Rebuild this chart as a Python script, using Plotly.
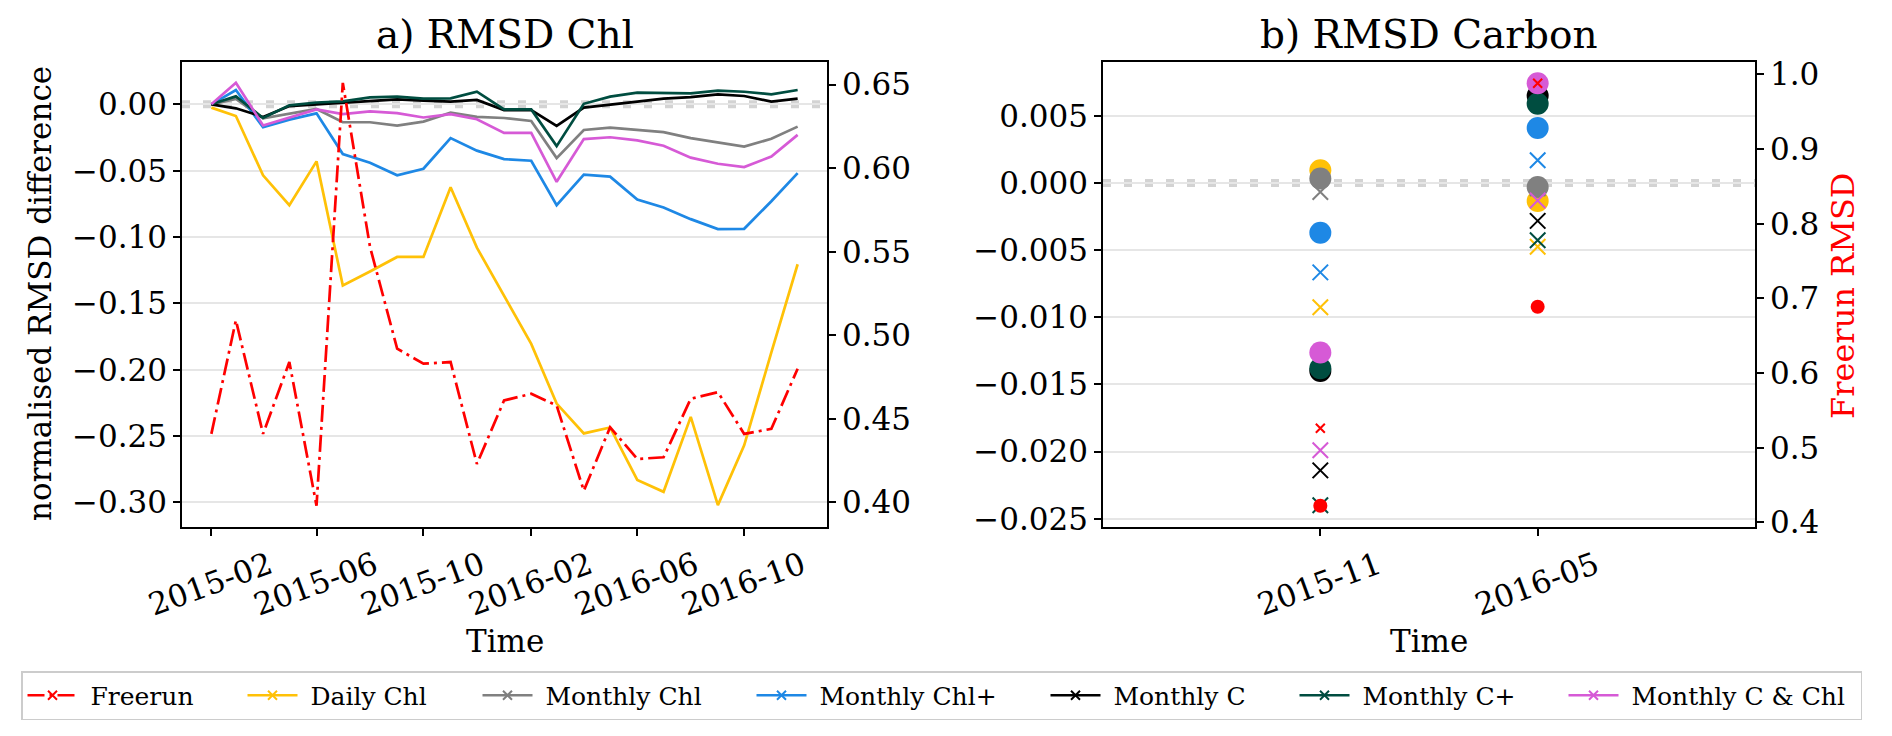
import plotly.graph_objects as go

# ---------------- data ----------------
months = ["2015-02-01", "2015-03-01", "2015-04-01", "2015-05-01", "2015-06-01", "2015-07-01",
          "2015-08-01", "2015-09-01", "2015-10-01", "2015-11-01", "2015-12-01", "2016-01-01",
          "2016-02-01", "2016-03-01", "2016-04-01", "2016-05-01", "2016-06-01", "2016-07-01",
          "2016-08-01", "2016-09-01", "2016-10-01", "2016-11-01", "2016-12-01"]

freerun_chl = [0.441, 0.509, 0.441, 0.484, 0.398, 0.651, 0.553, 0.492, 0.483, 0.484, 0.423, 0.461,
               0.465, 0.458, 0.407, 0.445, 0.426, 0.427, 0.462, 0.466, 0.441, 0.444, 0.480]
daily_chl = [-0.0025, -0.0088, -0.0535, -0.076, -0.043, -0.1365, -0.126, -0.115, -0.115, -0.0625,
             -0.108, -0.144, -0.1805, -0.2255, -0.248, -0.2435, -0.283, -0.292, -0.2355, -0.302,
             -0.257, -0.187, -0.1205]
monthly_chl = [0.0, 0.004, -0.0105, -0.0073, -0.0035, -0.0135, -0.0135, -0.016, -0.013, -0.0063,
               -0.0095, -0.0103, -0.0125, -0.0405, -0.0193, -0.0175, -0.0195, -0.021, -0.0255,
               -0.0288, -0.0318, -0.026, -0.0168]
monthly_chl_plus = [0.0, 0.0108, -0.0173, -0.0115, -0.0068, -0.0375, -0.044, -0.0535, -0.0485,
                    -0.0254, -0.0349, -0.0413, -0.0425, -0.076, -0.0529, -0.0545, -0.0718, -0.0778,
                    -0.0865, -0.094, -0.0938, -0.073, -0.0518]
monthly_c = [0.0, -0.003, -0.0095, -0.0013, 0.0, 0.0013, 0.0028, 0.0038, 0.0028, 0.002, 0.0033,
             -0.0043, -0.0043, -0.0163, -0.0025, -0.0005, 0.002, 0.0043, 0.0055, 0.0075, 0.0063,
             0.002, 0.0043]
monthly_c_plus = [0.0, 0.006, -0.0103, -0.0008, 0.0014, 0.0023, 0.0052, 0.0058, 0.0043, 0.0045,
                  0.0095, -0.0038, -0.0038, -0.0315, 0.0004, 0.0058, 0.0088, 0.0088, 0.0083,
                  0.0103, 0.0095, 0.0075, 0.0108]
monthly_c_chl = [0.0, 0.0163, -0.0159, -0.0098, -0.0038, -0.0073, -0.0053, -0.0066, -0.0099,
                 -0.0074, -0.0112, -0.0215, -0.0215, -0.0584, -0.0262, -0.0248, -0.0272, -0.0312,
                 -0.0402, -0.0448, -0.0473, -0.0393, -0.023]

carbon_dates = ["2015-11-01", "2016-05-01"]
freerun_carbon_circle = [0.4223, 0.6888]
freerun_carbon_cross = [0.5262, 0.988]
daily_chl_circle = [0.00094, -0.00134]
daily_chl_cross = [-0.00926, -0.00475]
monthly_chl_circle = [0.00033, -0.0003]
monthly_chl_cross = [-0.00067, -0.0004]
monthly_chl_plus_circle = [-0.00371, 0.00409]
monthly_chl_plus_cross = [-0.00666, 0.00169]
monthly_c_circle = [-0.0140, 0.0065]
monthly_c_cross = [-0.0214, -0.00282]
monthly_c_plus_circle = [-0.0138, 0.0059]
monthly_c_plus_cross = [-0.0240, -0.00426]
monthly_c_chl_circle = [-0.01263, 0.00743]
monthly_c_chl_cross = [-0.01991, -0.0013]

names = ["Freerun", "Daily Chl", "Monthly Chl", "Monthly Chl+", "Monthly C", "Monthly C+",
         "Monthly C & Chl"]
colors = ["#ff0000", "#FFC107", "#808080", "#1E88E5", "#000000", "#004D40", "#D65AD6"]

left_ticks = [-0.30, -0.25, -0.20, -0.15, -0.10, -0.05, 0.00]
left_ticks_r = [0.40, 0.45, 0.50, 0.55, 0.60, 0.65]
right_ticks = [-0.025, -0.020, -0.015, -0.010, -0.005, 0.000, 0.005]
right_ticks_r = [0.4, 0.5, 0.6, 0.7, 0.8, 0.9, 1.0]
left_xticks = ["2015-02-01", "2015-06-01", "2015-10-01", "2016-02-01", "2016-06-01", "2016-10-01"]
right_xticks = ["2015-11-01", "2016-05-01"]

# ---------------- figure ----------------
FONT = "DejaVu Serif"
W, H = 1892, 736
ML, MR, MT, MB = 182, 20, 62, 209
PW, PH = W - ML - MR, H - MT - MB

def px_x(p):
    return (p - ML) / PW

def px_y(p):
    return (H - MB - p) / PH

fig = go.Figure()

chl_series = [daily_chl, monthly_chl, monthly_chl_plus, monthly_c, monthly_c_plus, monthly_c_chl]
circ_series = [daily_chl_circle, monthly_chl_circle, monthly_chl_plus_circle, monthly_c_circle,
               monthly_c_plus_circle, monthly_c_chl_circle]
cross_series = [daily_chl_cross, monthly_chl_cross, monthly_chl_plus_cross, monthly_c_cross,
                monthly_c_plus_cross, monthly_c_chl_cross]
DASHDOT = "17px,5px,3px,5px"

# left panel lines
for vals, c in zip(chl_series, colors[1:]):
    fig.add_trace(go.Scatter(x=months, y=vals, mode="lines", line=dict(color=c, width=2.7),
                             xaxis="x", yaxis="y", showlegend=False, hoverinfo="skip"))
fig.add_trace(go.Scatter(x=months, y=freerun_chl, mode="lines",
                         line=dict(color=colors[0], width=2.7, dash=DASHDOT),
                         xaxis="x", yaxis="y2", showlegend=False, hoverinfo="skip"))

# right panel markers
for circ, cross, c in zip(circ_series, cross_series, colors[1:]):
    fig.add_trace(go.Scatter(x=carbon_dates, y=circ, mode="markers",
                             marker=dict(symbol="circle", size=22, color=c, line=dict(width=0)),
                             xaxis="x2", yaxis="y3", showlegend=False, hoverinfo="skip"))
    fig.add_trace(go.Scatter(x=carbon_dates, y=cross, mode="markers",
                             marker=dict(symbol="x-thin", size=15.5, color=c,
                                         line=dict(width=2, color=c)),
                             xaxis="x2", yaxis="y3", showlegend=False, hoverinfo="skip"))
fig.add_trace(go.Scatter(x=carbon_dates, y=freerun_carbon_circle, mode="markers",
                         marker=dict(symbol="circle", size=14, color=colors[0], line=dict(width=0)),
                         xaxis="x2", yaxis="y4", showlegend=False, hoverinfo="skip"))
fig.add_trace(go.Scatter(x=carbon_dates, y=freerun_carbon_cross, mode="markers",
                         marker=dict(symbol="x-thin", size=9, color=colors[0],
                                     line=dict(width=2, color=colors[0])),
                         xaxis="x2", yaxis="y4", showlegend=False, hoverinfo="skip"))

# legend entries
leg_widths = [155, 170, 209, 229, 184, 204, 232]
for i, (n, c) in enumerate(zip(names, colors)):
    fig.add_trace(go.Scatter(x=[None], y=[None], mode="lines+markers", name="\u00a0" + n,
                             line=dict(color=c, width=2.7, dash=DASHDOT if i == 0 else "solid"),
                             marker=dict(symbol="x-thin", size=9, color=c, line=dict(width=2, color=c)),
                             xaxis="x", yaxis="y", legendwidth=leg_widths[i]))

tickfont = dict(family=FONT, size=31, color="black")
common_ax = dict(showline=True, linecolor="black", linewidth=1.5, ticks="outside", ticklen=7,
                 tickwidth=1.5, tickcolor="black", tickfont=tickfont, zeroline=False)

d1 = [0, px_x(827)]
d2 = [px_x(1103), px_x(1755)]

fig.update_layout(
    width=W, height=H, autosize=False,
    margin=dict(l=ML, r=MR, t=MT, b=MB, pad=0),
    paper_bgcolor="white", plot_bgcolor="white",
    font=dict(family=FONT, color="black"),
    xaxis=dict(domain=d1, anchor="y", type="date",
               range=["2014-12-29 12:00", "2017-01-03 12:00"],
               tickvals=left_xticks, tickformat="%Y-%m", tickangle=-20, mirror=True,
               showgrid=False, ticklabelshift=58, **common_ax),
    yaxis=dict(domain=[0, 1], anchor="x", range=[-0.3185, 0.0319], tickvals=left_ticks,
               tickformat=".2f", showgrid=True, gridcolor="#e6e6e6", gridwidth=1.5, **common_ax),
    yaxis2=dict(overlaying="y", anchor="x", side="right", range=[0.3853, 0.6635],
                tickvals=left_ticks_r, tickformat=".2f", showgrid=False, **common_ax),
    xaxis2=dict(domain=d2, anchor="y3", type="date",
                range=["2015-05-03", "2016-10-30"],
                tickvals=right_xticks, tickformat="%Y-%m", tickangle=-20, mirror=True,
                showgrid=False, ticklabelshift=58, **common_ax),
    yaxis3=dict(domain=[0, 1], anchor="x2", range=[-0.02562, 0.00901], tickvals=right_ticks,
                tickformat=".3f", showgrid=True, gridcolor="#e6e6e6", gridwidth=1.5, **common_ax),
    yaxis4=dict(overlaying="y3", anchor="x2", side="right", range=[0.3939, 1.0164],
                tickvals=right_ticks_r, tickformat=".1f", showgrid=False, **common_ax),
    legend=dict(orientation="h", x=px_x(21), y=px_y(671), xanchor="left", yanchor="top",
                bordercolor="#cccccc", borderwidth=1.5, bgcolor="white",
                font=dict(family=FONT, size=25, color="black"), itemwidth=50,
                valign="middle"),
    shapes=[
        dict(type="line", xref="x domain", yref="y", x0=0, x1=1, y0=0, y1=0, layer="below",
             line=dict(color="#d3d3d3", width=8, dash="8px,13px")),
        dict(type="line", xref="x2 domain", yref="y3", x0=0, x1=1, y0=0, y1=0, layer="below",
             line=dict(color="#d3d3d3", width=8, dash="8px,13px")),
    ],
    annotations=[
        dict(text="a) RMSD Chl", xref="paper", yref="paper", x=(d1[0] + d1[1]) / 2, y=px_y(35),
             xanchor="center", yanchor="middle", showarrow=False,
             font=dict(family=FONT, size=39, color="black")),
        dict(text="b) RMSD Carbon", xref="paper", yref="paper", x=(d2[0] + d2[1]) / 2, y=px_y(35),
             xanchor="center", yanchor="middle", showarrow=False,
             font=dict(family=FONT, size=39, color="black")),
        dict(text="Time", xref="paper", yref="paper", x=(d1[0] + d1[1]) / 2, y=px_y(641),
             xanchor="center", yanchor="middle", showarrow=False,
             font=dict(family=FONT, size=31, color="black")),
        dict(text="Time", xref="paper", yref="paper", x=(d2[0] + d2[1]) / 2, y=px_y(641),
             xanchor="center", yanchor="middle", showarrow=False,
             font=dict(family=FONT, size=31, color="black")),
        dict(text="normalised RMSD difference", xref="paper", yref="paper", x=px_x(40),
             y=px_y(294), xanchor="center", yanchor="middle", textangle=-90, showarrow=False,
             font=dict(family=FONT, size=31, color="black")),
        dict(text="Freerun RMSD", xref="paper", yref="paper", x=px_x(1843),
             y=px_y(296), xanchor="center", yanchor="middle", textangle=-90, showarrow=False,
             font=dict(family=FONT, size=32, color="#ff0000")),
    ],
)

fig.write_html("out.html", config={"displayModeBar": False},
               post_script="document.body.style.margin='0';document.body.style.overflow='hidden';")
